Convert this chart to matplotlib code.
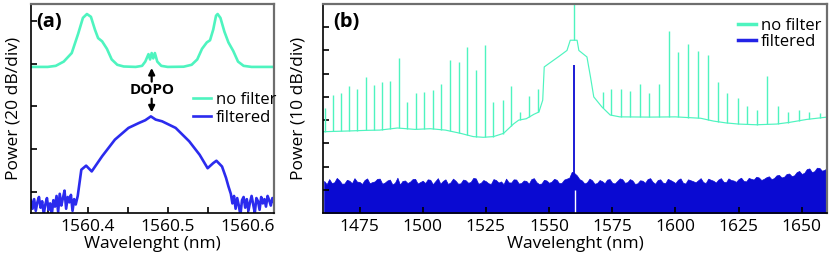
import numpy as np
import matplotlib
matplotlib.use('Agg')
import matplotlib.pyplot as plt
from matplotlib.ticker import MultipleLocator

plt.rcParams['font.family'] = ['Open Sans', 'DejaVu Sans']

#colors
cyan = '#4ef4bf'
blue_a = '#2b2bee'
blue_b = '#0a0ad2'

# ---------------- panel (a) data: wavelength (nm) / power (dB) ----------------
a_nofilt_x = [1560.329, 1560.35, 1560.36, 1560.37, 1560.38, 1560.388, 1560.394, 1560.399,
              1560.404, 1560.409, 1560.413, 1560.418, 1560.424, 1560.43, 1560.437, 1560.445,
              1560.46, 1560.468, 1560.472, 1560.476, 1560.478, 1560.48, 1560.482, 1560.484,
              1560.487, 1560.492, 1560.50, 1560.52, 1560.53, 1560.537, 1560.543, 1560.549,
              1560.553, 1560.557, 1560.5605, 1560.5625, 1560.566, 1560.571, 1560.576, 1560.582,
              1560.588, 1560.595, 1560.605, 1560.633]
a_nofilt_y = [58.5, 58.5, 59.0, 61.0, 65.0, 74.0, 81.5, 83.3,
              82.0, 76.0, 72.0, 70.5, 67.0, 62.0, 59.5, 58.7,
              58.5, 59.0, 61.0, 64.5, 62.0, 65.0, 62.5, 65.0,
              61.0, 59.0, 58.5, 58.6, 59.5, 62.0, 67.0, 70.0,
              71.0, 76.0, 82.5, 83.3, 81.5, 75.0, 70.0, 66.0,
              61.0, 59.0, 58.5, 58.5]

a_filt_x = [1560.329, 1560.331, 1560.333, 1560.335, 1560.337, 1560.339, 1560.341, 1560.343,
            1560.345, 1560.347, 1560.349, 1560.351, 1560.353, 1560.355, 1560.357, 1560.359,
            1560.361, 1560.363, 1560.365, 1560.367, 1560.369, 1560.371, 1560.373, 1560.375,
            1560.377, 1560.379, 1560.381, 1560.383, 1560.385, 1560.3875, 1560.392, 1560.398,
            1560.405, 1560.418, 1560.434, 1560.451, 1560.464, 1560.472, 1560.479, 1560.485,
            1560.493, 1560.51, 1560.527, 1560.54, 1560.55, 1560.557, 1560.561, 1560.568,
            1560.573, 1560.576, 1560.579, 1560.581, 1560.583, 1560.585, 1560.587, 1560.589,
            1560.591, 1560.593, 1560.595, 1560.597, 1560.599, 1560.601, 1560.603, 1560.605,
            1560.607, 1560.609, 1560.611, 1560.613, 1560.615, 1560.617, 1560.619, 1560.621,
            1560.623, 1560.625, 1560.627, 1560.629, 1560.631, 1560.633]
a_filt_y = [-4.0, -8.0, -3.5, -9.0, -5.0, -2.5, -7.5, -4.5,
            -10.5, -6.0, -3.0, -8.5, -5.5, -11.0, -4.0, -7.0,
            -2.0, -9.5, -1.0, -6.5, -3.0, 0.5, -8.0, -2.5,
            -5.0, -1.5, -9.0, -3.5, -6.0, -2.0, 10.3, 12.2,
            9.5, 16.6, 24.4, 29.9, 32.2, 33.5, 35.3, 33.8,
            33.0, 29.9, 23.6, 17.3, 11.0, 13.4, 14.5, 11.8,
            6.5, 2.5, -1.0, -5.5, -2.0, -8.0, -3.0, -6.5,
            -11.0, -4.0, -2.5, -7.5, -3.5, -9.0, -5.0, -2.0,
            -6.0, -10.0, -3.0, -4.5, -8.5, -2.5, -5.5, -3.5,
            -7.0, -2.0, -4.0, -6.5, -3.0, -5.0]

# ---------------- panel (b) data ----------------
b_base_x = [1460.5, 1470, 1478, 1483, 1490, 1497, 1503, 1509, 1515, 1520, 1524, 1528, 1532,
            1536, 1538, 1541, 1544, 1546, 1547.5, 1548.1, 1550, 1554, 1557.1, 1558.4, 1561.1,
            1561.8, 1565.0, 1566.4, 1567.7, 1570.9, 1574.2, 1578, 1590, 1600, 1610, 1615,
            1620, 1625, 1632, 1640, 1645, 1652, 1660]
b_base_y = [35.0, 35.3, 35.6, 35.7, 36.6, 36.0, 36.3, 35.7, 34.3, 32.9, 32.6, 32.9, 34.3,
            38.4, 40.0, 40.6, 42.5, 43.5, 48.6, 62.9, 64.4, 67.5, 70.0, 74.4, 74.4,
            70.0, 67.2, 58.6, 50.0, 45.7, 42.2, 41.4, 41.3, 41.4, 40.8, 39.6,
            38.8, 38.3, 38.0, 38.3, 39.0, 40.3, 41.3]

# comb lines (sidebands) on the unfiltered spectrum
comb_x = [1461.4, 1464.6, 1467.7, 1470.8, 1474.1, 1477.4, 1480.7, 1483.9, 1487.2, 1490.5,
          1493.7, 1497.3, 1500.5, 1503.9, 1507.3, 1510.8, 1514.3, 1517.7, 1521.1, 1524.5,
          1528.0, 1531.6, 1535.1, 1538.6, 1542.1, 1545.7, 1559.8,
          1571.2, 1574.7, 1578.4, 1582.2, 1585.8, 1589.6, 1593.4, 1597.4, 1601.0, 1604.9,
          1608.9, 1612.9, 1616.7, 1620.6, 1624.6, 1628.5, 1632.4, 1636.4, 1640.5, 1644.6,
          1648.8, 1653.0, 1657.3]
comb_y = [45.1, 50.8, 51.5, 54.6, 53.6, 58.4, 55.1, 56.5, 56.8, 66.9,
          47.6, 51.5, 52.2, 52.9, 55.5, 66.0, 65.0, 71.5, 61.4, 72.5,
          47.9, 48.6, 54.9, 43.5, 50.5, 53.6, 95.0,
          51.9, 53.3, 53.6, 52.6, 55.5, 51.8, 55.4, 78.4, 69.4, 72.7,
          69.8, 68.0, 56.5, 51.8, 49.6, 46.0, 44.3, 58.9, 46.0, 43.6,
          44.3, 43.3, 42.9]

# filtered spectrum: top of the noise floor every 1 nm, and the single DOPO line
noise_x = [1461, 1462, 1463, 1464, 1465, 1466, 1467, 1468, 1469, 1470,
           1471, 1472, 1473, 1474, 1475, 1476, 1477, 1478, 1479, 1480,
           1481, 1482, 1483, 1484, 1485, 1486, 1487, 1488, 1489, 1490,
           1491, 1492, 1493, 1494, 1495, 1496, 1497, 1498, 1499, 1500,
           1501, 1502, 1503, 1504, 1505, 1506, 1507, 1508, 1509, 1510,
           1511, 1512, 1513, 1514, 1515, 1516, 1517, 1518, 1519, 1520,
           1521, 1522, 1523, 1524, 1525, 1526, 1527, 1528, 1529, 1530,
           1531, 1532, 1533, 1534, 1535, 1536, 1537, 1538, 1539, 1540,
           1541, 1542, 1543, 1544, 1545, 1546, 1547, 1548, 1549, 1550,
           1551, 1552, 1553, 1554, 1555, 1556, 1557, 1558, 1559, 1560,
           1561, 1562, 1563, 1564, 1565, 1566, 1567, 1568, 1569, 1570,
           1571, 1572, 1573, 1574, 1575, 1576, 1577, 1578, 1579, 1580,
           1581, 1582, 1583, 1584, 1585, 1586, 1587, 1588, 1589, 1590,
           1591, 1592, 1593, 1594, 1595, 1596, 1597, 1598, 1599, 1600,
           1601, 1602, 1603, 1604, 1605, 1606, 1607, 1608, 1609, 1610,
           1611, 1612, 1613, 1614, 1615, 1616, 1617, 1618, 1619, 1620,
           1621, 1622, 1623, 1624, 1625, 1626, 1627, 1628, 1629, 1630,
           1631, 1632, 1633, 1634, 1635, 1636, 1637, 1638, 1639, 1640,
           1641, 1642, 1643, 1644, 1645, 1646, 1647, 1648, 1649, 1650,
           1651, 1652, 1653, 1654, 1655, 1656, 1657, 1658, 1659, 1660]
noise_y = [13.8, 12.4, 14.6, 12.9, 13.2, 15.1, 14.1, 12.6, 12.7, 14.3,
           13.9, 12.8, 15.0, 13.5, 13.4, 12.5, 14.2, 14.9, 12.8, 13.3,
           13.6, 14.7, 14.8, 12.6, 13.1, 14.0, 14.4, 12.3, 13.0, 15.2,
           12.2, 13.8, 14.0, 12.9, 13.5, 14.6, 14.7, 12.7, 13.3, 13.9,
           12.9, 14.5, 14.3, 12.4, 13.7, 15.0, 12.6, 13.8, 14.5, 12.5,
           13.2, 14.8, 13.9, 12.6, 12.8, 14.4, 14.1, 13.0, 13.4, 15.1,
           14.9, 12.6, 13.0, 14.2, 13.7, 12.8, 12.5, 14.6, 14.2, 13.1,
           13.6, 12.4, 14.8, 13.2, 13.1, 14.5, 14.4, 12.7, 12.9, 14.0,
           13.8, 12.6, 14.6, 15.0, 13.3, 12.5, 12.7, 14.3, 14.0, 13.0,
           13.5, 14.7, 14.3, 12.8, 13.0, 14.4, 14.8, 15.2, 17.7, 17.2,
           16.2, 14.6, 14.0, 12.7, 13.2, 14.8, 14.1, 12.6, 12.9, 14.2,
           13.7, 12.8, 14.4, 14.6, 13.0, 12.7, 13.8, 14.9, 14.5, 13.0,
           13.3, 14.6, 14.0, 12.5, 12.8, 14.1, 13.9, 13.0, 14.6, 15.0,
           13.4, 12.6, 14.2, 14.5, 13.1, 12.8, 14.7, 14.2, 13.6, 12.9,
           14.3, 14.9, 13.0, 12.7, 14.5, 14.1, 13.7, 13.2, 14.1, 15.0,
           13.3, 12.9, 14.8, 14.3, 13.9, 13.1, 14.4, 15.0, 13.5, 13.2,
           14.9, 14.2, 14.0, 13.4, 14.6, 15.2, 13.8, 13.6, 15.1, 14.7,
           14.4, 15.6, 15.3, 14.2, 14.7, 15.4, 15.8, 14.6, 15.0, 16.2,
           16.4, 15.3, 15.6, 16.8, 17.0, 15.9, 16.2, 17.6, 18.1, 16.8,
           17.3, 18.9, 19.2, 17.6, 18.0, 19.5, 19.4, 18.2, 18.6, 19.3]
dopo_nm = 1559.8
dopo_db = 63.6
gap_nm = 1560.1
gap_db = 10.0

fig = plt.figure(figsize=(8.3, 2.58), dpi=100)
ax1 = fig.add_axes([0.0373, 0.1744, 0.2928, 0.8101])
ax2 = fig.add_axes([0.389, 0.1744, 0.6074, 0.8101])

for ax in (ax1, ax2):
    for s in ('top', 'right'):
        ax.spines[s].set_color('#6e6e6e')
        ax.spines[s].set_linewidth(1.6)
    for s in ('left', 'bottom'):
        ax.spines[s].set_color('black')
        ax.spines[s].set_linewidth(1.2)
    ax.tick_params(direction='in', length=4, width=1.2, labelsize=12.5, pad=4,
                   which='both', top=False, right=False)
    ax.tick_params(axis='y', labelleft=False)

#panel (a)
ax1.plot(a_nofilt_x, a_nofilt_y, color=cyan, lw=1.9, label='no filter')
ax1.plot(a_filt_x, a_filt_y, color=blue_a, lw=1.9, label='filtered')
ax1.set_xlim(1560.329, 1560.633)
ax1.set_ylim(-10, 88)
ax1.xaxis.set_major_locator(MultipleLocator(0.1))
ax1.xaxis.set_minor_locator(MultipleLocator(0.05))
ax1.xaxis.set_major_formatter(plt.FuncFormatter(lambda v, p: '%.1f' % v))
ax1.yaxis.set_major_locator(MultipleLocator(20))
ax1.set_xlabel('Wavelenght (nm)', fontsize=12.5, labelpad=1)
ax1.set_ylabel('Power (20 dB/div)', fontsize=12.5)
ax1.yaxis.set_label_coords(-0.04, 0.5)
ax1.text(0.02, 0.915, '(a)', transform=ax1.transAxes, fontsize=14.5, fontweight='bold',
         va='center', ha='left')
ax1.text(1560.48, 47.6, 'DOPO', fontsize=11, fontweight='bold', ha='center', va='center')
ax1.annotate('', xy=(1560.48, 58.0), xytext=(1560.48, 51.6),
             arrowprops=dict(arrowstyle='-|>', color='black', lw=1.6, mutation_scale=9,
                             shrinkA=0, shrinkB=0))
ax1.annotate('', xy=(1560.48, 37.2), xytext=(1560.48, 43.6),
             arrowprops=dict(arrowstyle='-|>', color='black', lw=1.6, mutation_scale=9,
                             shrinkA=0, shrinkB=0))
ax1.legend(loc='upper left', bbox_to_anchor=(0.665, 0.58), frameon=False, fontsize=12,
           handlelength=1.1, handletextpad=0.3, labelspacing=0.15, borderpad=0,
           borderaxespad=0)

#panel (b)
ax2.fill_between(noise_x, 0, noise_y, color=blue_b, lw=0.5, edgecolor=blue_b)
ax2.vlines(dopo_nm, 0, dopo_db, color=blue_b, lw=1.3)
ax2.vlines(gap_nm, -1, gap_db, color='white', lw=1.0)
ax2.plot(b_base_x, b_base_y, color=cyan, lw=0.85)
ax2.vlines(comb_x, np.interp(comb_x, b_base_x, b_base_y), comb_y, color=cyan, lw=1.0)
ax2.plot([], [], color=cyan, lw=2.5, label='no filter')
ax2.plot([], [], color='#2323e6', lw=2.5, label='filtered')
ax2.set_xlim(1460.5, 1660)
ax2.set_ylim(0, 90)
ax2.set_xticks([1475, 1500, 1525, 1550, 1575, 1600, 1625, 1650])
ax2.set_yticks([10, 20, 30, 40, 50, 60, 70, 80])
ax2.set_xlabel('Wavelenght (nm)', fontsize=12.5, labelpad=1)
ax2.set_ylabel('Power (10 dB/div)', fontsize=12.5)
ax2.yaxis.set_label_coords(-0.032, 0.5)
ax2.text(0.02, 0.915, '(b)', transform=ax2.transAxes, fontsize=14.5, fontweight='bold',
         va='center', ha='left')
ax2.legend(loc='upper left', bbox_to_anchor=(0.823, 0.935), frameon=False, fontsize=12,
           handlelength=1.1, handletextpad=0.3, labelspacing=0.0, borderpad=0,
           borderaxespad=0)

plt.savefig('out.png', dpi=100)
